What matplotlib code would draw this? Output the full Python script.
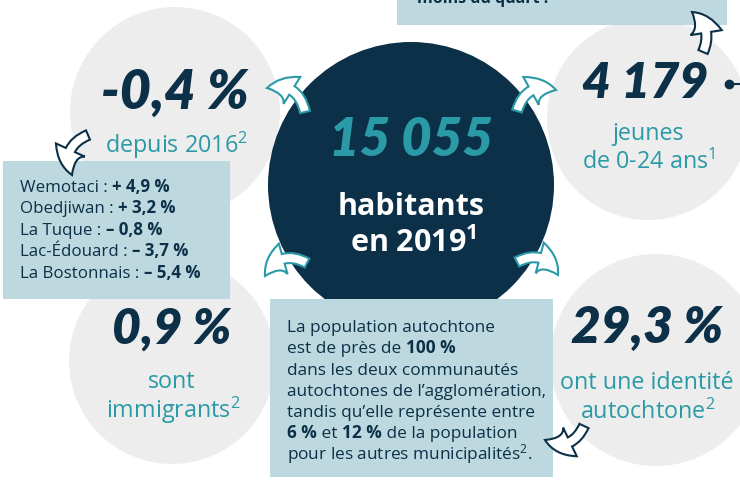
import matplotlib
matplotlib.use("Agg")
import matplotlib.pyplot as plt
from matplotlib.patches import Circle, Rectangle, FancyArrowPatch

# ---- content ----
NAVY = "#0B3048"
TEAL = "#2A9AA6"
BOX = "#BDD9DF"
GREY = "#EDEDED"

center_value = "15 055"
center_label = ["habitants", r"en 2019$^{\mathbf{1}}$"]

stat_values = ["-0,4 %", "4 179", "0,9 %", "29,3 %"]
stat_labels = [[r"depuis 2016$^{\mathrm{2}}$"], ["jeunes", r"de 0-24 ans$^{\mathrm{1}}$"],
               ["sont", r"immigrants$^{\mathrm{2}}$"],
               ["ont une identité", r"autochtone$^{\mathrm{2}}$"]]

communities = ["Wemotaci", "Obedjiwan", "La Tuque", "Lac-Édouard", "La Bostonnais"]
growth = ["+ 4,9 %", "+ 3,2 %", "– 0,8 %", "– 3,7 %", "– 5,4 %"]

note_lines = [
    [("La population autochtone", "normal")],
    [("est de près de ", "normal"), ("100 %", "bold")],
    [("dans les deux communautés", "normal")],
    [("autochtones de l’agglomération,", "normal")],
    [("tandis qu’elle représente entre", "normal")],
    [("6 %", "bold"), (" et ", "normal"), ("12 %", "bold"), (" de la population", "normal")],
    [(r"pour les autres municipalités$^{\mathrm{2}}$.", "normal")],
]
top_note = "moins du quart !"

BODY = ['Open Sans', 'DejaVu Sans']
BIG = ['Lato', 'DejaVu Sans']
plt.rcParams['font.family'] = BODY
plt.rcParams['mathtext.fontset'] = 'custom'
plt.rcParams['mathtext.rm'] = 'Open Sans'
plt.rcParams['mathtext.it'] = 'Open Sans:italic'
plt.rcParams['mathtext.bf'] = 'Open Sans:bold'

fig = plt.figure(figsize=(7.4, 4.81), dpi=100)
ax = fig.add_axes([0, 0, 1, 1])
ax.set_xlim(0, 740)
ax.set_ylim(481, 0)
ax.axis('off')

# grey circles
for (cx, cy, r) in [(175, 113, 105), (648, 120, 101), (172, 362, 103), (656, 361, 106)]:
    ax.add_patch(Circle((cx, cy), r, color=GREY, zorder=1, lw=0))

# navy centre circle
ax.add_patch(Circle((411, 186), 143, color=NAVY, zorder=2, lw=0))

# boxes
ax.add_patch(Rectangle((397, -5), 330, 31, color=BOX, zorder=3, lw=0))
ax.add_patch(Rectangle((3, 162), 227, 138, color=BOX, zorder=3, lw=0))
ax.add_patch(Rectangle((270, 300), 283, 178, color=BOX, zorder=3, lw=0))

# top note (cut by the frame, as in the source)
ax.text(417, -1, top_note, color=NAVY, fontsize=11.5, fontweight='bold',
        ha='left', va='center', zorder=5)

# big numbers
big_kw = dict(family=BIG, fontweight='heavy', fontstyle='italic',
              ha='center', va='center', zorder=5)
ax.text(411, 141, center_value, color=TEAL, fontsize=38, **big_kw)
ax.text(411, 207, center_label[0], color='white', fontsize=22, fontweight='bold',
        ha='center', va='center', zorder=5)
ax.text(413, 243, center_label[1], color='white', fontsize=22, fontweight='bold',
        ha='center', va='center', zorder=5)

pos_vals = [(175, 93), (645, 83), (172, 329), (647, 328)]
val_sizes = [39, 36, 36, 37]
pos_labels = [[(177, 145)], [(648, 134), (649, 162)],
              [(172, 382), (173, 410)], [(647, 383), (648, 412)]]
for v, (x, y), s in zip(stat_values, pos_vals, val_sizes):
    ax.text(x, y, v, color=NAVY, fontsize=s, **big_kw)
for labs, ps in zip(stat_labels, pos_labels):
    for lab, (x, y) in zip(labs, ps):
        ax.text(x, y, lab, color=TEAL, fontsize=16.8, ha='center', va='center', zorder=5)

# dot and line after 4 179
ax.plot([729, 745], [85, 85], color=NAVY, lw=1.5, zorder=5, solid_capstyle='butt')
ax.plot([729], [85], 'o', color=NAVY, ms=6, zorder=5)


def rich(x, y, parts, size):
    prev = None
    for txt, w in parts:
        if prev is None:
            prev = ax.text(x, y, txt, color=NAVY, fontsize=size, fontweight=w,
                           ha='left', va='baseline', zorder=5)
        else:
            prev = ax.annotate(txt, xy=(1, 0), xycoords=prev, color=NAVY,
                               fontsize=size, fontweight=w, ha='left', va='bottom',
                               zorder=5)


ys_left = [192, 213.5, 235, 256.5, 278]
for name, g, y in zip(communities, growth, ys_left):
    rich(20, y, [(name + " : ", "normal"), (g, "bold")], 12.2)

for i, parts in enumerate(note_lines):
    rich(287, 332 + 21.3 * i, parts, 12.4)


# curved arrows
def arrow(p0, p1, rad, ec, scale=24):
    a = FancyArrowPatch(p0, p1, connectionstyle=f"arc3,rad={rad}",
                        arrowstyle="simple,head_length=0.75,head_width=0.95,tail_width=0.3",
                        mutation_scale=scale, facecolor='white', edgecolor=ec,
                        lw=1.5, zorder=6, shrinkA=0, shrinkB=0, joinstyle='miter')
    ax.add_patch(a)

arrow((305, 113), (267, 89), 0.5, TEAL)
arrow((517, 112), (556, 91), -0.5, TEAL)
arrow((307, 264), (265, 277), 0.5, TEAL)
arrow((517, 263), (558, 276), -0.5, TEAL)
arrow((88, 136), (72, 176), 0.5, NAVY)
arrow((703, 53), (692, 13), 0.4, NAVY)
arrow((584, 427), (545, 441), -0.5, NAVY)

fig.savefig("out.png", dpi=100)
